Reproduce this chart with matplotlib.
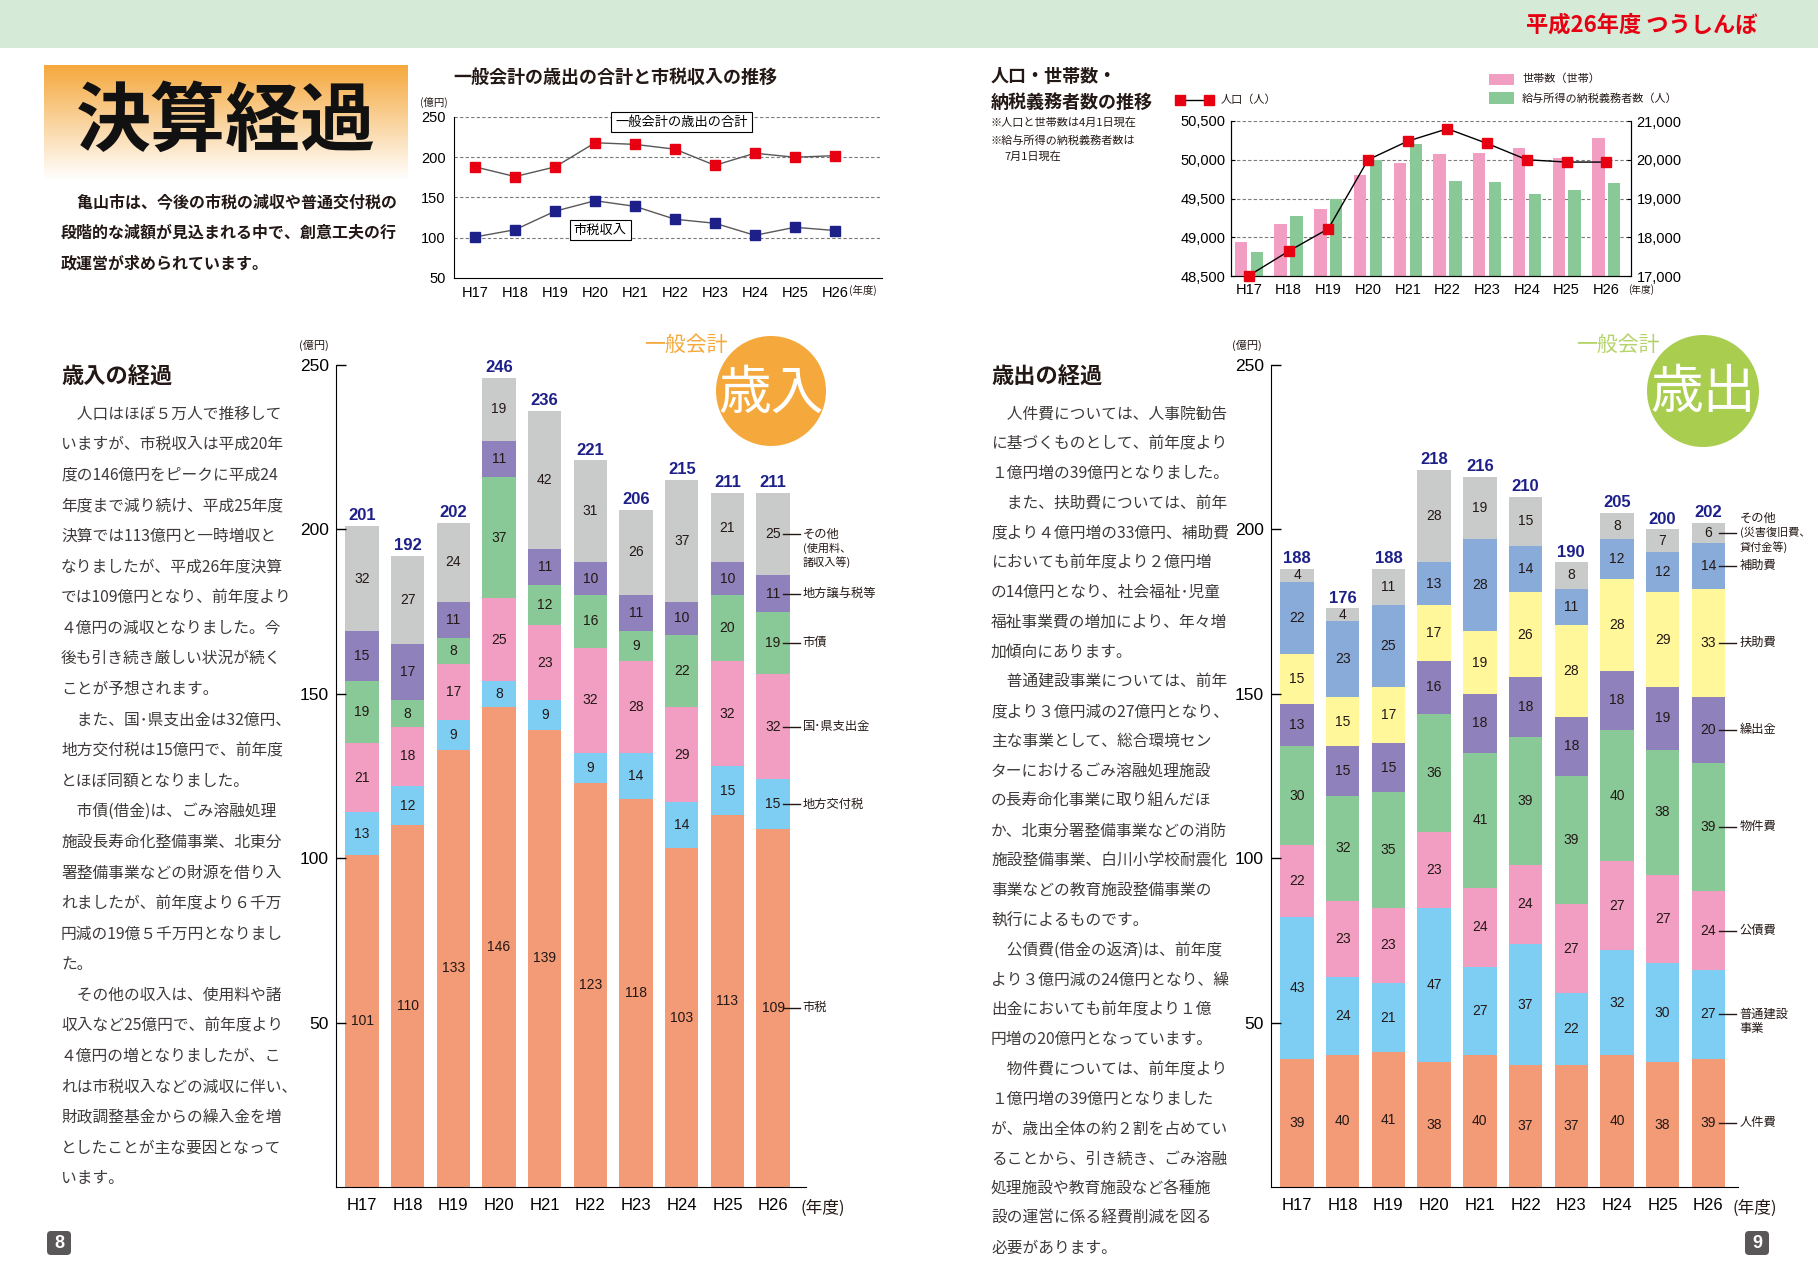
import matplotlib
matplotlib.use('Agg')
import matplotlib.pyplot as plt
import numpy as np
from matplotlib.patches import Rectangle, Circle, FancyBboxPatch

plt.rcParams['font.family'] = ['Noto Sans CJK JP', 'DejaVu Sans']
NUM = ['Liberation Sans', 'Noto Sans CJK JP']

W, H = 1818, 1287

# ---- data ----
years = ['H17', 'H18', 'H19', 'H20', 'H21', 'H22', 'H23', 'H24', 'H25', 'H26']

# 一般会計の歳出の合計と市税収入の推移
expense_total = [188, 176, 188, 218, 216, 210, 190, 205, 200, 202]
city_tax = [101, 110, 133, 146, 139, 123, 118, 103, 113, 109]

# 人口・世帯数・納税義務者数
population = [48505, 48820, 49110, 50000, 50240, 50400, 50210, 50000, 49970, 49970]
households = [17890, 18350, 18735, 19610, 19915, 20145, 20170, 20300, 20035, 20555]
taxpayers = [17610, 18555, 18985, 19985, 20400, 19455, 19430, 19120, 19220, 19400]

# 歳入 (bottom -> top)
rev_city_tax = [101, 110, 133, 146, 139, 123, 118, 103, 113, 109]
rev_local_alloc = [13, 12, 9, 8, 9, 9, 14, 14, 15, 15]
rev_grants = [21, 18, 17, 25, 23, 32, 28, 29, 32, 32]
rev_bonds = [19, 8, 8, 37, 12, 16, 9, 22, 20, 19]
rev_transfer_tax = [15, 17, 11, 11, 11, 10, 11, 10, 10, 11]
rev_other = [32, 27, 24, 19, 42, 31, 26, 37, 21, 25]
rev_total = [201, 192, 202, 246, 236, 221, 206, 215, 211, 211]
rev_labels = [['市税'], ['地方交付税'], ['国･県支出金'], ['市債'], ['地方譲与税等'],
              ['その他', '(使用料、', '諸収入等)']]

# 歳出 (bottom -> top)
exp_personnel = [39, 40, 41, 38, 40, 37, 37, 40, 38, 39]
exp_construction = [43, 24, 21, 47, 27, 37, 22, 32, 30, 27]
exp_debt = [22, 23, 23, 23, 24, 24, 27, 27, 27, 24]
exp_goods = [30, 32, 35, 36, 41, 39, 39, 40, 38, 39]
exp_transfer = [13, 15, 15, 16, 18, 18, 18, 18, 19, 20]
exp_welfare = [15, 15, 17, 17, 19, 26, 28, 28, 29, 33]
exp_aid = [22, 23, 25, 13, 28, 14, 11, 12, 12, 14]
exp_other = [4, 4, 11, 28, 19, 15, 8, 8, 7, 6]
exp_total = [188, 176, 188, 218, 216, 210, 190, 205, 200, 202]
exp_labels = [['人件費'], ['普通建設', '事業'], ['公債費'], ['物件費'], ['繰出金'],
              ['扶助費'], ['補助費'], ['その他', '(災害復旧費、', '貸付金等)']]

intro_lines = ['　亀山市は、今後の市税の減収や普通交付税の',
               '段階的な減額が見込まれる中で、創意工夫の行',
               '政運営が求められています。']

left_text = ['　人口はほぼ５万人で推移して', 'いますが、市税収入は平成20年',
             '度の146億円をピークに平成24', '年度まで減り続け、平成25年度',
             '決算では113億円と一時増収と', 'なりましたが、平成26年度決算',
             'では109億円となり、前年度より', '４億円の減収となりました。今',
             '後も引き続き厳しい状況が続く', 'ことが予想されます。',
             '　また、国･県支出金は32億円、', '地方交付税は15億円で、前年度',
             'とほぼ同額となりました。', '　市債(借金)は、ごみ溶融処理',
             '施設長寿命化整備事業、北東分', '署整備事業などの財源を借り入',
             'れましたが、前年度より６千万', '円減の19億５千万円となりまし',
             'た。', '　その他の収入は、使用料や諸', '収入など25億円で、前年度より',
             '４億円の増となりましたが、こ', 'れは市税収入などの減収に伴い、',
             '財政調整基金からの繰入金を増', 'としたことが主な要因となって',
             'います。']

right_text = ['　人件費については、人事院勧告', 'に基づくものとして、前年度より',
              '１億円増の39億円となりました。', '　また、扶助費については、前年',
              '度より４億円増の33億円、補助費', 'においても前年度より２億円増',
              'の14億円となり、社会福祉･児童', '福祉事業費の増加により、年々増',
              '加傾向にあります。', '　普通建設事業については、前年',
              '度より３億円減の27億円となり、', '主な事業として、総合環境セン',
              'ターにおけるごみ溶融処理施設', 'の長寿命化事業に取り組んだほ',
              'か、北東分署整備事業などの消防', '施設整備事業、白川小学校耐震化',
              '事業などの教育施設整備事業の', '執行によるものです。',
              '　公債費(借金の返済)は、前年度', 'より３億円減の24億円となり、繰',
              '出金においても前年度より１億', '円増の20億円となっています。',
              '　物件費については、前年度より', '１億円増の39億円となりました',
              'が、歳出全体の約２割を占めてい', 'ることから、引き続き、ごみ溶融',
              '処理施設や教育施設など各種施', '設の運営に係る経費削減を図る',
              '必要があります。']

SALMON, LBLUE, PINK, GREEN = '#f29b76', '#7ecef4', '#f19ec2', '#89c997'
PURPLE, GRAY, YELLOW, BLUE = '#8f82bc', '#c9caca', '#fff799', '#88abda'
NAVY, RED, TXT = '#1d2088', '#e60012', '#231815'

fig = plt.figure(figsize=(W / 100, H / 100), dpi=100)
fig.patch.set_facecolor('white')


def box(l, t, r, b):
    return [l / W, 1 - b / H, (r - l) / W, (b - t) / H]


# background layer in pixel coordinates
bg = fig.add_axes([0, 0, 1, 1])
bg.axis('off')
bg.add_patch(Rectangle((0, 0), W, 48, color='#d5ead7', lw=0))
bg.text(1757, 25, '平成26年度 つうしんぼ', color=RED, fontsize=16,
        fontweight='bold', ha='right', va='center')

g = np.linspace(0, 1, 120)[:, None, None]
orange = np.array([0.96, 0.66, 0.24])
img = orange * (1 - g) + np.ones(3) * g
bg.imshow(img, extent=(44, 408, 180, 65), aspect='auto', interpolation='bilinear')
bg.set_xlim(0, W)
bg.set_ylim(H, 0)
bg.text(226, 123, '決算経過', fontsize=54, fontweight='bold', ha='center',
        va='center', color='#111111')
for i, s in enumerate(intro_lines):
    bg.text(61, 203 + i * 30, s, fontsize=11.5, fontweight='bold', color=TXT,
            va='center')

# titles of the top charts
bg.text(453, 77, '一般会計の歳出の合計と市税収入の推移', fontsize=13,
        fontweight='bold', color=TXT, va='center')
bg.text(420, 102, '(億円)', fontsize=7.5, color=TXT, va='center')
bg.text(849, 290, '(年度)', fontsize=7.5, color=TXT, va='center')

bg.text(991, 77, '人口・世帯数・', fontsize=13, fontweight='bold', color=TXT, va='center')
bg.text(991, 102, '納税義務者数の推移', fontsize=13, fontweight='bold', color=TXT, va='center')
bg.text(991, 123, '※人口と世帯数は4月1日現在', fontsize=8, color=TXT, va='center')
bg.text(991, 140, '※給与所得の納税義務者数は', fontsize=8, color=TXT, va='center')
bg.text(1004, 157, '7月1日現在', fontsize=8, color=TXT, va='center')
bg.plot([1180, 1209], [100, 100], color='k', lw=1)
bg.plot([1180, 1209], [100, 100], 's', color=RED, ms=7)
bg.text(1221, 100, '人口（人）', fontsize=8, color=TXT, va='center')
bg.add_patch(Rectangle((1489, 74), 25, 11, color=PINK, lw=0))
bg.add_patch(Rectangle((1489, 92), 25, 12, color=GREEN, lw=0))
bg.text(1522, 79, '世帯数（世帯）', fontsize=8, color=TXT, va='center')
bg.text(1522, 98, '給与所得の納税義務者数（人）', fontsize=8, color=TXT, va='center')
bg.text(1628, 290, '(年度)', fontsize=7, color=TXT, va='center')

# body texts
bg.text(61, 376, '歳入の経過', fontsize=16, fontweight='bold', color=TXT, va='center')
for i, s in enumerate(left_text):
    bg.text(61, 414 + i * 30.6, s, fontsize=11.3, color='#3e3a39', va='center')
bg.text(991, 376, '歳出の経過', fontsize=16, fontweight='bold', color=TXT, va='center')
for i, s in enumerate(right_text):
    bg.text(991, 414 + i * 29.8, s, fontsize=11.3, color='#3e3a39', va='center')

# bar chart headers
bg.text(299, 345, '(億円)', fontsize=8, color=TXT, va='center')
bg.text(1232, 345, '(億円)', fontsize=8, color=TXT, va='center')
bg.text(800, 1208, '(年度)', fontsize=12, color=TXT, va='center')
bg.text(1733, 1208, '(年度)', fontsize=12, color=TXT, va='center')
bg.text(686, 345, '一般会計', color='#f5a93c', fontsize=15, ha='center', va='center')
bg.add_patch(Circle((771, 391), 55, color='#f5a93c', lw=0))
bg.text(771, 393, '歳入', color='white', fontsize=38, ha='center', va='center')
bg.text(1618, 345, '一般会計', color='#b5d36b', fontsize=15, ha='center', va='center')
bg.add_patch(Circle((1703, 391), 56, color='#a9cd4f', lw=0))
bg.text(1703, 393, '歳出', color='white', fontsize=38, ha='center', va='center')

# page numbers
for cx, s in [(59, '8'), (1757, '9')]:
    bg.add_patch(FancyBboxPatch((cx - 12, 1231), 24, 24,
                                boxstyle='round,pad=0,rounding_size=4',
                                color='#595757', lw=0))
    bg.text(cx, 1243, s, color='white', fontsize=13, fontweight='bold',
            ha='center', va='center', family=NUM)

x = np.arange(len(years))

# ---- top middle line chart ----
ax1 = fig.add_axes(box(454, 117, 882, 278))
ax1.set_facecolor('none')
ax1.set_xlim(-0.53, 10.18)
ax1.set_ylim(50, 250)
for v in [100, 150, 200, 250]:
    ax1.axhline(v, color='#7a7a7a', lw=0.8, ls=(0, (3, 2)), zorder=0)
ax1.plot(x, expense_total, color='#595757', lw=1, zorder=2)
ax1.plot(x, expense_total, 's', color=RED, ms=7.5, zorder=3)
ax1.plot(x, city_tax, color='#595757', lw=1, zorder=2)
ax1.plot(x, city_tax, 's', color=NAVY, ms=7.5, zorder=3)
ax1.set_xticks(x)
ax1.set_xticklabels(years, family=NUM, fontsize=10.5)
ax1.set_yticks([50, 100, 150, 200, 250])
ax1.set_yticklabels(['50', '100', '150', '200', '250'], family=NUM, fontsize=10.5)
ax1.tick_params(length=0, pad=6)
for sp in ['top', 'right']:
    ax1.spines[sp].set_visible(False)
ax1.text(5.16, 243.8, '一般会計の歳出の合計', fontsize=9.5, ha='center', va='center',
         bbox=dict(boxstyle='square,pad=0.3', fc='white', ec='k', lw=0.8), zorder=4)
ax1.text(3.13, 109.6, '市税収入', fontsize=9.5, ha='center', va='center',
         bbox=dict(boxstyle='square,pad=0.3', fc='white', ec='k', lw=0.8), zorder=4)

# ---- top right population chart ----
ax3 = fig.add_axes(box(1231, 121, 1631, 276))
ax3.set_facecolor('none')
ax3.set_xlim(-0.45, 9.62)
ax3.bar(x - 0.2, households, 0.31, color=PINK, lw=0, zorder=1)
ax3.bar(x + 0.2, taxpayers, 0.31, color=GREEN, lw=0, zorder=1)
ax3.set_ylim(17000, 21000)
for v in [18000, 19000, 20000, 21000]:
    ax3.axhline(v, color='#7a7a7a', lw=0.8, ls=(0, (3, 2)), zorder=0)
ax3.set_xticks(x)
ax3.set_xticklabels(years, family=NUM, fontsize=10.5)
ax3.tick_params(axis='x', length=0, pad=5)
ax3.spines['top'].set_visible(False)

ax4 = ax3.twinx()
ax4.set_ylim(48500, 50500)
ax4.plot(x, population, color='k', lw=1, zorder=3, clip_on=False)
ax4.plot(x, population, 's', color=RED, ms=7, zorder=4, clip_on=False)
ax4.spines['top'].set_visible(False)

# twinx moves the original ticks to the left; swap sides afterwards
ax3.yaxis.tick_right()
ax3.set_yticks([17000, 18000, 19000, 20000, 21000])
ax3.set_yticklabels(['{:,}'.format(v) for v in [17000, 18000, 19000, 20000, 21000]],
                    family=NUM, fontsize=10.5)
ax3.tick_params(axis='y', length=3, direction='in', pad=4)
ax4.yaxis.tick_left()
ax4.set_yticks([48500, 49000, 49500, 50000, 50500])
ax4.set_yticklabels(['{:,}'.format(v) for v in [48500, 49000, 49500, 50000, 50500]],
                    family=NUM, fontsize=10.5)
ax4.tick_params(axis='y', length=3, direction='in', pad=4)


# ---- stacked bar charts ----
def stacked(ax, series, colors, totals, labels, anchors, xl, xt):
    bottom = np.zeros(len(years))
    for vals, c in zip(series, colors):
        vals = np.array(vals, dtype=float)
        ax.bar(x, vals, 0.73, bottom=bottom, color=c, lw=0)
        for xi, b, v in zip(x, bottom, vals):
            ax.text(xi, b + v / 2, '%d' % v, ha='center', va='center',
                    fontsize=10, color=TXT, family=NUM)
        bottom += vals
    for xi, t, b in zip(x, totals, bottom):
        ax.annotate(str(t), (xi, b), xytext=(0, 2), textcoords='offset points',
                    ha='center', va='bottom', fontsize=12, fontweight='bold',
                    color=NAVY, family=NUM)
    # side labels at the last bar
    last = np.array([s[-1] for s in series], dtype=float)
    tops = np.cumsum(last)
    for v, top, lines, a in zip(last, tops, labels, anchors):
        y = top - v / 2
        ax.plot(xl, [y, y], color=TXT, lw=1, clip_on=False)
        for i, s in enumerate(lines):
            ax.annotate(s, (xt, y), xytext=(0, -(i - a) * 10), textcoords='offset points',
                        ha='left', va='center', fontsize=8.8 if i == 0 or a == 0 and len(lines) == 2 else 8,
                        color=TXT, annotation_clip=False)
    ax.set_ylim(0, 250)
    ax.set_xticks(x)
    ax.set_xticklabels(years, family=NUM, fontsize=12)
    ax.set_yticks([50, 100, 150, 200, 250])
    ax.set_yticklabels(['50', '100', '150', '200', '250'], family=NUM, fontsize=12.5)
    ax.tick_params(axis='x', length=0, pad=8)
    ax.tick_params(axis='y', length=7, direction='in', width=1, pad=5)
    for sp in ['top', 'right']:
        ax.spines[sp].set_visible(False)
    ax.set_facecolor('none')


axr = fig.add_axes(box(336, 365, 806, 1187))
axr.set_xlim(-0.57, 9.72)
stacked(axr, [rev_city_tax, rev_local_alloc, rev_grants, rev_bonds, rev_transfer_tax, rev_other],
        [SALMON, LBLUE, PINK, GREEN, PURPLE, GRAY], rev_total, rev_labels,
        [0, 0, 0, 0, 0, 0], [9.21, 9.58], 9.65)

axe = fig.add_axes(box(1271, 365, 1738, 1187))
axe.set_xlim(-0.57, 9.65)
stacked(axe, [exp_personnel, exp_construction, exp_debt, exp_goods, exp_transfer,
              exp_welfare, exp_aid, exp_other],
        [SALMON, LBLUE, PINK, GREEN, PURPLE, YELLOW, BLUE, GRAY], exp_total, exp_labels,
        [0, 0, 0, 0, 0, 0, 0, 1], [9.23, 9.61], 9.69)

fig.savefig('out.png', dpi=100)
